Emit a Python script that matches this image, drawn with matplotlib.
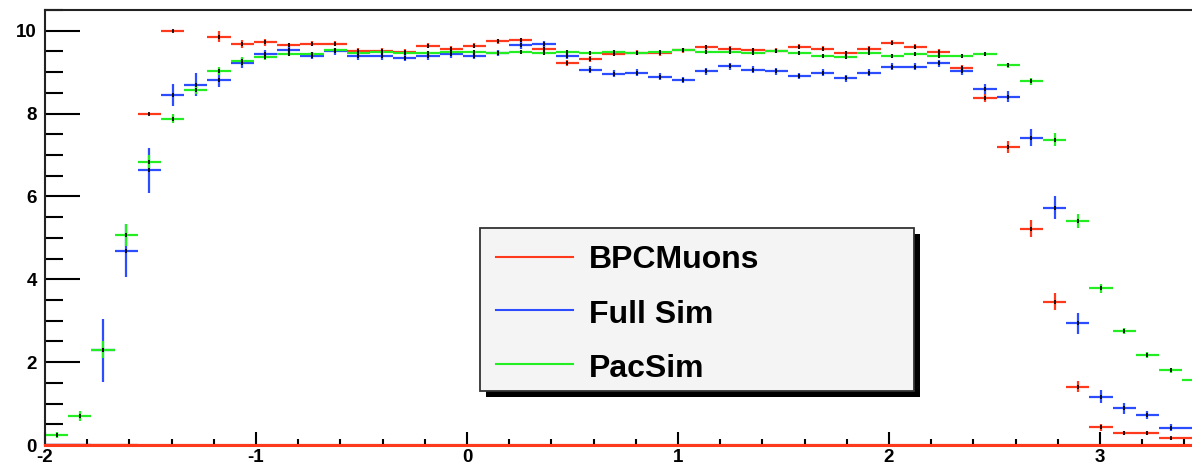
"""Muon eta acceptance: BPCMuons vs Full Sim vs PacSim (ROOT-style histogram)."""
import matplotlib

matplotlib.use("Agg")
import matplotlib.pyplot as plt
import numpy as np
from matplotlib.patches import Rectangle
from matplotlib.ticker import MultipleLocator

plt.rcParams["axes.unicode_minus"] = False

# 50 bins of width 0.11 from -2 to 3.5
bin_edges = np.linspace(-2.0, 3.5, 51)

bpc_muons = [0, 0, 0, 0, 8.00, 10.00, 11.0, 9.86, 9.68, 9.72,
             9.65, 9.69, 9.69, 9.52, 9.52, 9.49, 9.64, 9.56, 9.64, 9.74,
             9.77, 9.57, 9.22, 9.32, 9.45, 9.47, 9.46, 9.53, 9.60, 9.57,
             9.53, 9.52, 9.61, 9.57, 9.46, 9.57, 9.71, 9.61, 9.49, 9.10,
             8.38, 7.19, 5.22, 3.46, 1.41, 0.43, 0.28, 0.28, 0.16, 0.16]
bpc_err = [0, 0, 0, 0, 0.02, 0.02, 0.10, 0.13, 0.10, 0.08,
           0.06, 0.06, 0.06, 0.06, 0.06, 0.06, 0.06, 0.06, 0.06, 0.06,
           0.06, 0.06, 0.08, 0.08, 0.06, 0.06, 0.06, 0.06, 0.06, 0.06,
           0.06, 0.06, 0.06, 0.06, 0.06, 0.06, 0.06, 0.06, 0.07, 0.08,
           0.10, 0.15, 0.20, 0.20, 0.13, 0.08, 0.05, 0.05, 0.04, 0.04]

full_sim = [0, 0, 2.29, 4.69, 6.63, 8.45, 8.70, 8.82, 9.22, 9.43,
            9.53, 9.40, 9.50, 9.38, 9.38, 9.35, 9.38, 9.43, 9.40, 9.46,
            9.65, 9.68, 9.40, 9.06, 8.96, 8.99, 8.89, 8.81, 9.02, 9.14,
            9.06, 9.02, 8.91, 8.99, 8.85, 8.99, 9.13, 9.13, 9.21, 9.03,
            8.60, 8.41, 7.42, 5.73, 2.94, 1.17, 0.89, 0.72, 0.42, 0.42]
full_err = [0, 0, 0.76, 0.64, 0.54, 0.27, 0.27, 0.19, 0.13, 0.10,
            0.08, 0.08, 0.08, 0.08, 0.08, 0.08, 0.08, 0.08, 0.08, 0.08,
            0.08, 0.08, 0.08, 0.08, 0.08, 0.08, 0.08, 0.08, 0.08, 0.08,
            0.08, 0.08, 0.08, 0.08, 0.08, 0.08, 0.08, 0.08, 0.09, 0.10,
            0.12, 0.14, 0.20, 0.27, 0.25, 0.16, 0.13, 0.10, 0.08, 0.08]

pac_sim = [0.24, 0.70, 2.30, 5.07, 6.84, 7.88, 8.57, 9.03, 9.28, 9.36,
           9.43, 9.43, 9.53, 9.46, 9.48, 9.46, 9.46, 9.48, 9.48, 9.47,
           9.48, 9.47, 9.48, 9.46, 9.48, 9.47, 9.48, 9.53, 9.49, 9.49,
           9.46, 9.52, 9.46, 9.39, 9.36, 9.46, 9.40, 9.43, 9.40, 9.40,
           9.43, 9.17, 8.78, 7.37, 5.41, 3.78, 2.75, 2.17, 1.81, 1.57]
pac_err = [0.07, 0.11, 0.20, 0.27, 0.16, 0.10, 0.10, 0.10, 0.08, 0.06,
           0.05, 0.05, 0.05, 0.05, 0.05, 0.05, 0.05, 0.05, 0.05, 0.05,
           0.05, 0.05, 0.05, 0.05, 0.05, 0.05, 0.05, 0.05, 0.05, 0.05,
           0.05, 0.05, 0.05, 0.05, 0.05, 0.05, 0.05, 0.05, 0.05, 0.05,
           0.05, 0.06, 0.08, 0.16, 0.16, 0.10, 0.08, 0.07, 0.06, 0.06]

labels = ["BPCMuons", "Full Sim", "PacSim"]
colors = ["#ff3a1c", "#2c4dff", "#22ee22"]

W, H = 1192, 467
FONT = "Liberation Sans"


def fig_xy(x, y):
    """pixel (from top-left) -> figure fraction"""
    return x / W, 1 - y / H


fig = plt.figure(figsize=(W / 100, H / 100), dpi=100, facecolor="white")
# right edge of the frame (eta = 3.5) falls just outside the picture
ax = fig.add_axes([45 / W, 22 / H, 5.5 * 211 / W, 435 / H])

centers = 0.5 * (bin_edges[:-1] + bin_edges[1:])
half = 0.5 * np.diff(bin_edges)

series = [(bpc_muons, bpc_err), (full_sim, full_err), (pac_sim, pac_err)]
for (vals, err), col in zip(series, colors):
    vals = np.asarray(vals, dtype=float)
    ax.errorbar(centers, vals, xerr=half, yerr=err, fmt="none",
                ecolor=col, elinewidth=1.6, capsize=0, zorder=2)
    filled = vals > 0
    ax.plot(centers[filled], vals[filled], ls="none", marker="|", ms=3, mew=1.2,
            color="black", zorder=3)

ax.axhline(0, color=colors[0], lw=2.2, zorder=6, clip_on=False)

ax.set_xlim(bin_edges[0], bin_edges[-1])
ax.set_ylim(0, 10.5)
ax.xaxis.set_major_locator(MultipleLocator(1))
ax.xaxis.set_minor_locator(MultipleLocator(0.2))
ax.yaxis.set_major_locator(MultipleLocator(2))
ax.yaxis.set_minor_locator(MultipleLocator(0.5))

ax.tick_params(axis="y", which="major", direction="in", length=25, width=1.5, pad=6)
ax.tick_params(axis="y", which="minor", direction="in", length=13, width=1.5)
ax.tick_params(axis="x", which="major", direction="in", length=9.5, width=1.5, pad=3)
ax.tick_params(axis="x", which="minor", direction="in", length=4.5, width=1.5)
ax.tick_params(top=False, right=False)
for lab in ax.get_xticklabels() + ax.get_yticklabels():
    lab.set_fontfamily(FONT)
    lab.set_fontweight("bold")
    lab.set_fontsize(13.5)

for s in ax.spines.values():
    s.set_linewidth(1.5)
    s.set_color("#222222")

# legend box with ROOT-style drop shadow
x0, y0 = fig_xy(480, 391)
x1, y1 = fig_xy(914, 228)
sx, sy = 6 / W, -6 / H
fig.add_artist(Rectangle((x0 + sx, y0 + sy), x1 - x0, y1 - y0, transform=fig.transFigure,
                         facecolor="black", edgecolor="none", zorder=10))
fig.add_artist(Rectangle((x0, y0), x1 - x0, y1 - y0, transform=fig.transFigure,
                         facecolor="#f4f4f4", edgecolor="#333333", lw=1.3, zorder=11))
line_y = [257, 310, 364]
base_y = [268, 323, 377]
for lab, col, ly, by in zip(labels, colors, line_y, base_y):
    xa, ya = fig_xy(496, ly)
    xb, _ = fig_xy(573, ly)
    fig.add_artist(plt.Line2D([xa, xb], [ya, ya], transform=fig.transFigure,
                              color=col, lw=1.5, zorder=12))
    tx, ty = fig_xy(589, by)
    fig.text(tx, ty, lab, fontfamily=FONT, fontweight="bold", fontsize=23,
             va="baseline", ha="left", zorder=12)

fig.savefig("out.png", dpi=100)
